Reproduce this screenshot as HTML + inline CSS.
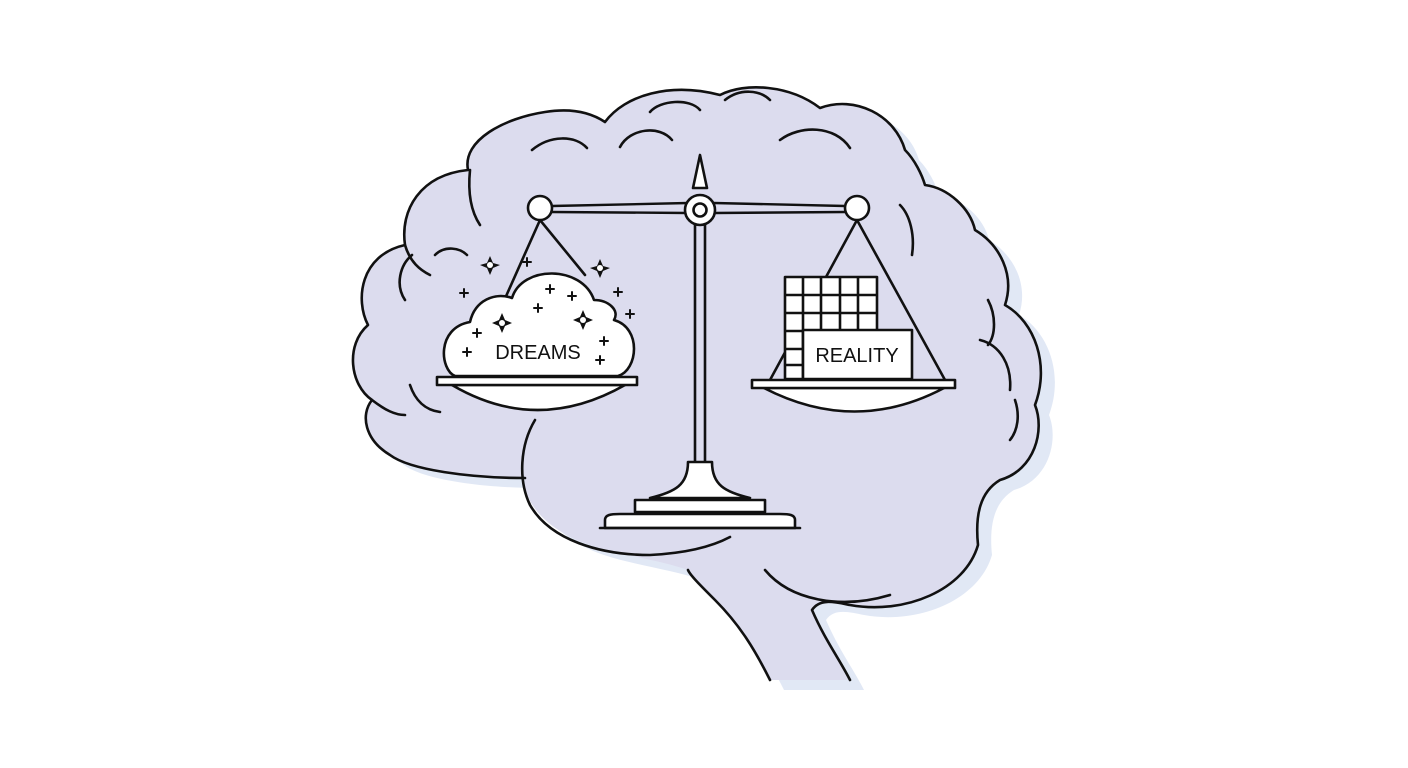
<!DOCTYPE html>
<html><head><meta charset="utf-8"><style>
html,body{margin:0;padding:0;background:#fff;width:1408px;height:768px;overflow:hidden}
svg{display:block}
text{font-family:"Liberation Sans","DejaVu Sans",sans-serif}
</style></head><body>
<svg width="1408" height="768" viewBox="0 0 1408 768" xmlns="http://www.w3.org/2000/svg">
<defs>
<path id="brain" d="M525,478 C470,478 410,470 390,455 C365,440 360,415 372,400 C350,385 345,345 368,325 C355,300 360,255 405,245 C400,210 420,175 468,170 C462,140 505,118 545,112 C570,108 590,112 605,122 C625,95 670,82 720,95 C745,82 790,85 820,108 C855,95 895,115 905,150 C915,160 922,175 925,185 C948,188 970,208 975,230 C1000,245 1015,275 1005,305 C1035,322 1050,365 1035,405 C1045,430 1035,470 1000,480 C980,492 975,515 978,545 C965,590 905,615 850,605 C835,602 820,598 812,610 C825,640 840,660 850,680 L770,680 C755,650 740,625 715,600 C700,585 690,575 688,570 C660,560 620,555 590,545 C545,530 522,500 525,478 Z"/>
<clipPath id="cl"><rect x="0" y="0" width="1408" height="680"/></clipPath>
</defs>
<use href="#brain" transform="translate(14,10)" fill="#e1e8f5" clip-path="url(#cl)"/>
<use href="#brain" fill="#dcdcee"/>
<g fill="none" stroke="#111" stroke-width="2.6" stroke-linecap="round" stroke-linejoin="round">
<path d="M525,478 C470,478 410,470 390,455 C365,440 360,415 372,400 C350,385 345,345 368,325 C355,300 360,255 405,245 C400,210 420,175 468,170 C462,140 505,118 545,112 C570,108 590,112 605,122 C625,95 670,82 720,95 C745,82 790,85 820,108 C855,95 895,115 905,150 C915,160 922,175 925,185 C948,188 970,208 975,230 C1000,245 1015,275 1005,305 C1035,322 1050,365 1035,405 C1045,430 1035,470 1000,480 C980,492 975,515 978,545 C965,590 905,615 850,605 C835,602 820,598 812,610 C825,640 840,660 850,680"/>
<path d="M770,680 C755,650 740,625 715,600 C700,585 690,575 688,570"/>
<path d="M535,420 C520,445 518,480 530,505 C550,540 600,555 650,555 C690,553 715,545 730,537"/>
<path d="M470,170 C468,190 470,210 480,225"/>
<path d="M405,245 C410,262 420,270 430,275"/>
<path d="M372,400 C385,410 395,415 405,415"/>
<path d="M532,150 C550,135 575,135 587,148"/>
<path d="M620,147 C630,128 660,125 672,140"/>
<path d="M650,112 C660,100 690,98 700,110"/>
<path d="M725,100 C740,88 760,90 770,100"/>
<path d="M780,140 C800,125 835,125 850,148"/>
<path d="M435,255 C445,245 460,248 467,255"/>
<path d="M412,255 C400,265 395,285 405,300"/>
<path d="M410,385 C415,400 425,410 440,412"/>
<path d="M900,205 C910,215 915,235 912,255"/>
<path d="M980,340 C1000,345 1012,365 1010,390"/>
<path d="M1015,400 C1020,415 1018,430 1010,440"/>
<path d="M765,570 C790,600 840,610 890,595"/>
<path d="M988,300 C996,315 996,335 988,345"/>
<path d="M540,220 L470,377 M540,220 L585,275"/>
<path d="M857,220 L770,380 M857,220 L945,380"/>
<path d="M552,206 L688,203 M552,212 L688,213 M714,203 L845,206 M714,213 L845,212" stroke-width="2.4"/>
<path d="M695,224 L695,462 M705,224 L705,462"/>
<path d="M688,462 L712,462 C712,485 725,492 750,498 L650,498 C675,492 688,485 688,462 Z" fill="#fff"/>
<path d="M635,500 L765,500 L765,512 L635,512 Z" fill="#fff"/>
<path d="M605,528 L605,520 C605,515 610,514 620,514 L780,514 C790,514 795,515 795,520 L795,528 Z" fill="#fff"/>
<path d="M600,528 L800,528"/>
</g>
<g stroke="#111" stroke-width="2.6" fill="#fff">
<path d="M700,155 L707,188 L693,188 Z" stroke-linejoin="round"/>
<circle cx="700" cy="210" r="15"/>
<circle cx="700" cy="210" r="6.5"/>
<circle cx="540" cy="208" r="12"/>
<circle cx="857" cy="208" r="12"/>
</g>
<g stroke="#111" stroke-width="2.6" fill="#fff" stroke-linejoin="round">
<path d="M452,385 Q537,435 625,385 Z"/>
<path d="M455,376 C440,370 436,328 470,322 C475,300 495,292 512,298 C522,265 582,265 594,300 C608,300 620,310 614,320 C642,328 638,370 618,376 Z"/>
<rect x="437" y="377" width="200" height="8"/>
</g>
<text x="538" y="359" font-size="20" text-anchor="middle" fill="#111">DREAMS</text>
<g fill="#111">
<path d="M490,256 L493,263 L500,265 L493,268 L490,275 L487,268 L480,265 L487,263 Z"/>
<path d="M600,259 L603,266 L610,268 L603,271 L600,278 L597,271 L590,268 L597,266 Z"/>
<path d="M502,313 L505,320 L512,323 L505,326 L502,333 L499,326 L492,323 L499,320 Z"/>
<path d="M583,310 L586,317 L593,320 L586,323 L583,330 L580,323 L573,320 L580,317 Z"/>
</g>
<g fill="#fff">
<circle cx="490" cy="265" r="3"/><circle cx="600" cy="268" r="3"/><circle cx="502" cy="323" r="3"/><circle cx="583" cy="320" r="3"/>
</g>
<g stroke="#111" stroke-width="2" stroke-linecap="round">
<path d="M464,289v8M460,293h8 M527,258v8M523,262h8 M550,285v8M546,289h8 M572,292v8M568,296h8 M538,304v8M534,308h8 M618,288v8M614,292h8 M630,310v8M626,314h8 M477,329v8M473,333h8 M604,337v8M600,341h8 M467,348v8M463,352h8 M600,356v8M596,360h8"/>
</g>
<g stroke="#111" stroke-width="2.6" fill="#fff" stroke-linejoin="round">
<path d="M764,388 Q855,435 944,388 Z"/>
<rect x="785" y="277" width="92" height="102"/>
<path d="M803,277 V378 M821,277 V330 M840,277 V330 M858,277 V330 M785,295 H877 M785,313 H877 M785,331 H803 M785,349 H803 M785,365 H803" fill="none"/>
<rect x="803" y="330" width="109" height="49"/>
<rect x="752" y="380" width="203" height="8"/>
</g>
<text x="857" y="362" font-size="20" text-anchor="middle" fill="#111">REALITY</text>
</svg>
</body></html>
